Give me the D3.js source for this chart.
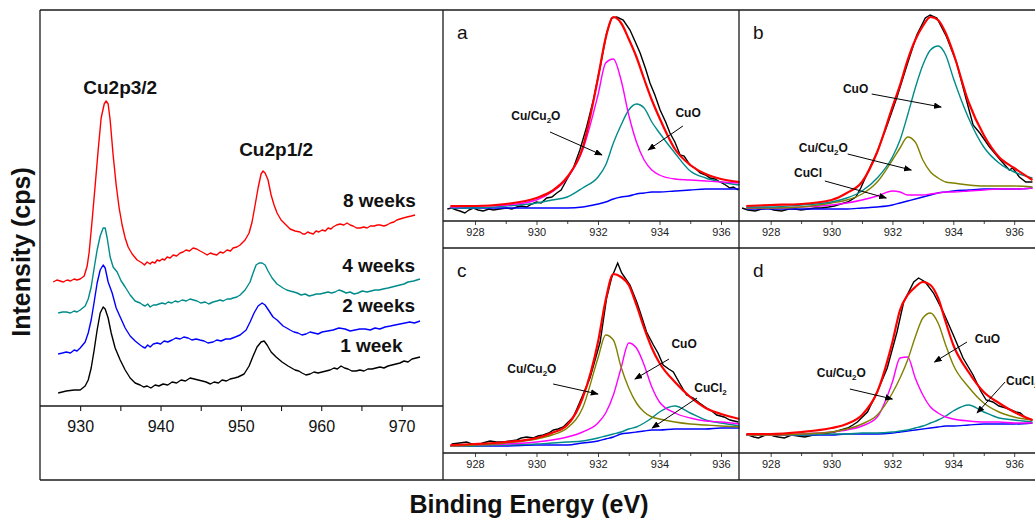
<!DOCTYPE html>
<html>
<head>
<meta charset="utf-8">
<script src="https://cdn.jsdelivr.net/npm/d3@7"></script>
<style>
  body { margin: 0; background: #fff; }
  svg { display: block; }
  text { font-family: "Liberation Sans", Arial, sans-serif; }
</style>
</head>
<body>
<svg id="chart" width="1035" height="522"></svg>
<script>
// ---- survey spectra: [binding energy (eV), intensity (a.u.)]
var week1 = [[927.26,13],[928.26,15],[929.25,16],[930.0,16],[930.62,20],[931.0,26],[931.37,38],[931.74,56],[932.11,76],[932.49,93],[932.86,99],[933.11,97],[933.48,88],[933.86,73],[934.35,58],[934.98,46],[935.6,36],[936.22,28],[936.84,23],[937.46,21],[937.9,19],[938.33,20],[938.8,18],[939.33,21],[939.8,20],[940.32,22],[940.9,21],[941.44,24],[942.0,23],[942.56,26],[943.1,25],[943.68,28],[944.2,27],[944.68,26],[945.2,25],[945.67,24],[946.2,22],[946.67,24],[947.2,23],[947.66,26],[948.2,25],[948.66,27],[949.2,28],[949.65,29],[950.4,32],[951.02,40],[951.52,50],[952.01,59],[952.51,64],[952.89,65],[953.26,61],[953.76,54],[954.38,49],[955.12,44],[955.87,40],[956.3,38],[956.74,36],[957.2,35],[957.61,33],[958.1,31],[958.61,32],[959.1,34],[959.6,33],[960.1,34],[960.6,35],[961.1,36],[961.59,38],[962.0,37],[962.46,40],[962.9,38],[963.33,37],[963.8,35],[964.33,35],[964.8,36],[965.32,35],[965.8,37],[966.32,37],[966.8,38],[967.31,39],[967.8,38],[968.31,40],[968.8,41],[969.3,42],[969.8,43],[970.3,45],[970.8,44],[971.29,47],[971.8,48],[972.29,49]];
var week2 = [[927.26,52],[927.8,53],[928.26,54],[928.8,53],[929.25,56],[929.6,55],[930.0,58],[930.62,64],[931.0,73],[931.37,86],[931.74,104],[932.11,123],[932.49,136],[932.86,141],[933.11,138],[933.48,124],[933.98,113],[934.48,98],[934.98,89],[935.6,78],[936.22,70],[936.84,65],[937.46,61],[937.8,59],[938.08,58],[938.4,61],[938.71,59],[939.1,62],[939.58,63],[940.0,62],[940.45,65],[940.9,64],[941.44,66],[941.9,68],[942.44,67],[942.9,69],[943.43,68],[943.9,66],[944.43,67],[944.9,66],[945.42,65],[945.9,63],[946.54,64],[947.0,66],[947.54,65],[948.1,67],[948.66,67],[949.3,69],[949.9,71],[950.65,76],[951.14,84],[951.64,93],[952.14,100],[952.64,103],[953.01,101],[953.51,95],[954.0,89],[954.5,86],[955.25,80],[955.7,78],[956.12,76],[956.6,74],[957.11,73],[957.6,71],[958.11,72],[958.6,74],[959.1,73],[959.6,72],[960.1,74],[960.8,75],[961.47,76],[962.2,78],[962.96,77],[963.6,75],[964.2,76],[964.8,77],[965.45,77],[966.1,76],[966.69,78],[967.3,77],[967.94,79],[968.6,80],[969.18,81],[969.8,82],[970.42,83],[971.0,84],[971.6,83],[972.29,85]];
var week4 = [[927.26,93],[927.8,94],[928.26,94],[928.8,93],[929.25,95],[929.6,94],[930.0,96],[930.62,100],[931.0,107],[931.37,119],[931.74,138],[932.11,156],[932.49,170],[932.86,178],[933.11,178],[933.36,168],[933.73,149],[934.1,139],[934.6,134],[935.1,125],[935.6,119],[936.22,111],[936.84,105],[937.46,103],[937.8,101],[938.08,100],[938.4,102],[938.71,99],[939.1,101],[939.45,101],[939.8,102],[940.2,103],[940.6,102],[940.95,104],[941.4,103],[941.82,105],[942.2,104],[942.69,106],[943.2,105],[943.68,107],[944.1,106],[944.55,105],[945.0,103],[945.55,104],[946.0,102],[946.54,104],[947.0,105],[947.41,106],[947.8,105],[948.28,107],[948.7,107],[949.03,108],[949.5,109],[949.9,111],[950.52,116],[951.14,124],[951.52,133],[951.89,141],[952.26,143],[952.64,143],[953.01,141],[953.38,135],[953.88,128],[954.5,122],[955.25,118],[955.7,116],[956.12,115],[956.6,114],[956.99,113],[957.5,111],[957.99,112],[958.5,110],[958.98,111],[959.4,112],[959.85,112],[960.35,113],[960.85,114],[961.3,113],[961.72,114],[962.2,116],[962.59,115],[963.1,113],[963.58,114],[964.1,112],[964.58,113],[965.1,115],[965.7,114],[966.2,115],[966.69,116],[967.2,116],[967.69,117],[968.3,118],[968.81,119],[969.3,120],[969.8,121],[970.3,122],[970.8,124],[971.5,125],[972.29,127]];
var week8 = [[926.64,124],[927.1,126],[927.51,125],[927.9,124],[928.38,126],[928.8,125],[929.25,127],[929.6,126],[930.0,127],[930.5,130],[930.87,140],[931.12,154],[931.49,186],[931.87,221],[932.24,256],[932.61,288],[932.99,302],[933.23,305],[933.48,302],[933.73,286],[934.1,251],[934.48,221],[934.85,198],[935.22,181],[935.6,168],[935.97,159],[936.47,152],[937.09,146],[937.71,143],[938.0,141],[938.33,144],[938.7,142],[938.96,144],[939.3,143],[939.58,146],[939.9,145],[940.2,147],[940.5,146],[940.82,149],[941.2,148],[941.57,151],[942.0,150],[942.44,153],[942.8,154],[943.18,156],[943.6,155],[944.05,158],[944.5,157],[944.93,155],[945.4,153],[945.8,151],[946.2,153],[946.54,152],[947.0,151],[947.41,154],[947.8,153],[948.28,156],[948.7,155],[949.03,158],[949.5,159],[949.9,161],[950.52,166],[951.02,173],[951.39,184],[951.77,201],[952.14,218],[952.51,232],[952.76,235],[953.01,233],[953.38,226],[953.76,211],[954.13,201],[954.5,193],[955.0,186],[955.5,182],[956.12,177],[956.74,175],[957.36,174],[957.7,172],[957.99,172],[958.3,174],[958.61,173],[959.0,172],[959.35,175],[959.7,174],[960.1,176],[960.5,175],[960.85,178],[961.2,177],[961.47,179],[961.9,181],[962.34,182],[962.8,181],[963.21,183],[963.6,181],[963.96,180],[964.4,178],[964.83,178],[965.3,179],[965.7,178],[966.1,180],[966.57,180],[967.0,181],[967.31,181],[967.8,180],[968.18,181],[968.6,183],[969.05,184],[969.4,186],[969.8,187],[970.2,188],[970.67,189],[971.2,190],[971.67,191]];

var surveyTicks = [930, 940, 950, 960, 970];
var surveyMinor = [935, 945, 955, 965];

// ---- curve fits of the Cu2p3/2 peak: energy grid shared by the fitted curves
var fitEnergy = [927.2, 928, 929, 930, 930.5, 931, 931.5, 932, 932.25, 932.5, 932.75, 933, 933.25, 933.5, 933.75, 934, 934.5, 935, 935.5, 936, 936.6];
var fitTicks = [928, 930, 932, 934, 936];
var fitMinor = [929, 931, 933, 935];

// panel a
var aRaw = [[927.1,12],[927.24,13],[927.4,11],[927.51,10],[927.67,8],[927.8,11],[927.95,13],[928.1,11],[928.27,10],[928.45,12],[928.6,11],[928.8,12],[929.03,13],[929.2,12],[929.36,14],[929.5,15],[929.68,14],[929.85,17],[930.0,19],[930.15,18],[930.33,23],[930.5,24],[930.66,28],[930.8,31],[930.98,41],[931.2,53],[931.41,71],[931.63,94],[931.85,121],[932.07,154],[932.28,188],[932.44,203],[932.61,204],[932.82,201],[933.04,191],[933.2,180],[933.37,168],[933.55,152],[933.69,138],[933.85,126],[934.02,111],[934.2,99],[934.34,88],[934.5,79],[934.67,66],[934.8,65],[934.99,56],[935.15,53],[935.32,48],[935.5,46],[935.64,43],[935.8,42],[935.97,39],[936.1,37],[936.29,33],[936.4,34],[936.56,31]];
var aFit = [15,15,17,23,30,44,73,143,183,204,198,182,164,142,121,103,72,56,47,42,39];
var aCu2O = [14,15,16,21,29,43,71,126,158,162,141,106,79,61,51,46,42,41,40,39,38];
var aCuO = [13,13,15,18,21,24,33,44,56,78,96,111,117,113,99,88,68,50,43,39,36];
var aBg = [13,13,13,13,13,13,14,17,19,22,24,25,27,28,29,29,30,31,32,32,32];

// panel b
var bRaw = [[927.06,13],[927.25,11],[927.49,10],[927.7,12],[927.92,13],[928.1,11],[928.36,10],[928.6,12],[928.79,12],[929.0,11],[929.23,12],[929.45,13],[929.66,13],[929.9,14],[930.09,15],[930.3,17],[930.53,19],[930.8,24],[930.96,33],[931.18,48],[931.5,69],[931.83,96],[932.15,124],[932.48,156],[932.8,186],[933.08,203],[933.24,206],[933.46,203],[933.78,184],[934.11,158],[934.43,121],[934.65,96],[934.87,88],[935.19,74],[935.52,62],[935.84,51],[935.95,53],[936.17,44],[936.38,39],[936.6,39]];
var bFit = [15,16,17,21,28,39,69,114,136,161,181,195,204,201,188,168,119,86,64,53,41];
var bCuO = [14,14,16,19,23,30,43,64,81,106,133,156,171,175,166,143,103,74,58,49,43];
var bCu2O = [13,13,14,18,21,27,39,61,73,84,79,61,49,43,39,38,36,35,35,35,34];
var bCuCl = [13,13,14,16,18,21,25,30,29,26,26,26,27,28,29,29,30,31,32,32,33];
var bBg = [12,12,12,12,12,13,14,16,18,20,22,24,26,28,29,30,31,32,32,32,33];

// panel c
var cRaw = [[927.24,9],[927.5,10],[927.73,11],[928.05,7],[928.25,10],[928.49,12],[928.7,11],[928.92,11],[929.15,12],[929.36,13],[929.5,15],[929.68,16],[929.9,15],[930.05,17],[930.22,18],[930.4,20],[930.55,23],[930.7,24],[930.87,26],[931.0,30],[931.2,36],[931.41,51],[931.74,75],[932.07,111],[932.28,155],[932.44,175],[932.64,190],[932.77,180],[933.04,168],[933.26,151],[933.37,141],[933.58,121],[933.8,108],[933.95,100],[934.12,88],[934.3,84],[934.45,81],[934.65,70],[934.88,58],[935.1,55],[935.3,50],[935.53,45],[935.7,42],[935.86,38],[936.1,36],[936.29,33],[936.56,31]];
var cFit = [8,9,11,15,20,28,55,111,153,179,176,168,148,125,105,90,71,56,45,39,34];
var cCu2O = [7,8,10,14,18,25,45,95,118,113,86,65,50,41,36,34,31,29,28,27,26];
var cCuO = [7,8,9,11,13,16,21,30,40,58,85,110,105,88,66,51,40,35,32,31,29];
var cCuCl2 = [7,7,8,9,10,11,12,15,17,19,21,24,26,30,35,41,47,40,33,30,27];
var cBg = [7,7,7,8,8,8,10,12,14,16,19,20,21,22,23,23,24,24,24,25,25];

// panel d
var dRaw = [[927.27,18],[927.45,16],[927.6,15],[927.75,17],[927.92,19],[928.1,17],[928.25,16],[928.45,15],[928.68,18],[928.9,17],[929.12,16],[929.4,18],[929.66,19],[929.9,20],[930.09,21],[930.3,23],[930.53,25],[930.7,28],[930.85,31],[931.18,41],[931.5,61],[931.83,85],[932.15,121],[932.37,151],[932.7,171],[932.86,175],[933.08,171],[933.35,160],[933.67,141],[934.0,118],[934.32,95],[934.65,78],[934.9,62],[935.08,53],[935.3,51],[935.5,47],[935.73,45],[936.06,41],[936.2,40],[936.38,35],[936.6,33]];
var dFit = [19,19,21,25,29,38,61,111,143,158,166,171,168,155,131,108,81,61,50,41,33];
var dCuO = [18,18,19,21,24,29,38,60,75,93,116,135,140,130,108,88,66,50,41,36,33];
var dCu2O = [18,18,19,21,23,27,36,71,95,96,75,58,46,40,36,34,32,31,31,30,30];
var dCuCl2 = [18,18,18,19,19,20,20,21,22,23,25,27,30,33,37,42,48,41,35,33,31];
var dBg = [18,18,18,18,19,19,19,20,21,22,23,24,25,26,27,27,28,29,29,29,30];

var RED = "#ff0000", TEAL = "#008b8b", BLUE = "#0000ff", MAG = "#ff00ff", OLIVE = "#808000";
var FRAME = "#1a1a1a";

var svg = d3.select("#chart");
var defs = svg.append("defs");
defs.append("marker").attr("id", "arrowhead")
    .attr("viewBox", "0 0 10 8").attr("refX", 9).attr("refY", 4)
    .attr("markerWidth", 8).attr("markerHeight", 6.4).attr("markerUnits", "userSpaceOnUse")
    .attr("orient", "auto")
    .append("path").attr("d", "M0,0 L10,4 L0,8 Z").attr("fill", "#000");

// ---------------- survey panel ----------------
var sx = d3.scaleLinear().domain([925, 975.15]).range([40, 443]);
var sy = d3.scaleLinear().domain([0, 396]).range([406, 10]);
var surveyLine = d3.line().x(function (d) { return sx(d[0]); }).y(function (d) { return sy(d[1]); });

[[week1, "#000"], [week2, BLUE], [week4, TEAL], [week8, RED]].forEach(function (s) {
    svg.append("path").datum(s[0])
        .attr("d", surveyLine)
        .attr("fill", "none").attr("stroke", s[1]).attr("stroke-width", 1.4)
        .attr("stroke-linejoin", "round");
});

var surveyAxis = svg.append("g").attr("transform", "translate(0,406)")
    .call(d3.axisBottom(sx).tickValues(surveyTicks).tickFormat(d3.format("d")).tickSize(5).tickPadding(10));
svg.append("g").attr("transform", "translate(0,406)")
    .call(d3.axisBottom(sx).tickValues(surveyMinor).tickFormat("").tickSize(5));
svg.selectAll(".domain").remove();
surveyAxis.selectAll("text").attr("font-size", 16).attr("fill", "#111")
    .attr("font-family", "'Liberation Sans', Arial, sans-serif");

var surveyLabels = [
    {t: "Cu2p3/2", e: 934.98, v: 312, a: "middle"},
    {t: "Cu2p1/2", e: 954.38, v: 250, a: "middle"},
    {t: "8 weeks", e: 962.7, v: 199, a: "start"},
    {t: "4 weeks", e: 962.6, v: 134, a: "start"},
    {t: "2 weeks", e: 962.6, v: 94, a: "start"},
    {t: "1 week", e: 962.35, v: 54, a: "start"}
];
surveyLabels.forEach(function (l) {
    svg.append("text").attr("x", sx(l.e)).attr("y", sy(l.v))
        .attr("text-anchor", l.a).attr("font-size", 19).attr("font-weight", "bold").attr("fill", "#111")
        .text(l.t);
});

// ---------------- fitted panels ----------------
function pairs(vals) {
    return vals.map(function (v, i) { return [fitEnergy[i], v]; });
}

var panels = [
    {id: "a", left: 443, right: 739, top: 10, axis: 221, raw: aRaw, fit: aFit,
     comps: [[aBg, BLUE], [aCuO, TEAL], [aCu2O, MAG]],
     notes: [{t: "Cu/Cu", s: "2", r: "O", e: 929.98, v: 101, from: [930.44, 89], to: [932.13, 66]},
             {t: "CuO", e: 934.93, v: 104, from: [934.76, 95], to: [933.63, 71]}]},
    {id: "b", left: 739, right: 1032, top: 10, axis: 221, raw: bRaw, fit: bFit,
     comps: [[bBg, BLUE], [bCuCl, MAG], [bCu2O, OLIVE], [bCuO, TEAL]],
     notes: [{t: "CuO", e: 930.79, v: 128, from: [931.32, 127], to: [933.6, 114]},
             {t: "Cu/Cu", s: "2", r: "O", e: 929.73, v: 69, from: [930.53, 67], to: [932.62, 51]},
             {t: "CuCl", e: 929.23, v: 44, from: [929.78, 40], to: [931.8, 23]}]},
    {id: "c", left: 443, right: 739, top: 248, axis: 453, raw: cRaw, fit: cFit,
     comps: [[cBg, BLUE], [cCuCl2, TEAL], [cCuO, MAG], [cCu2O, OLIVE]],
     notes: [{t: "CuO", e: 934.8, v: 105, from: [934.31, 94], to: [933.2, 74]},
             {t: "Cu/Cu", s: "2", r: "O", e: 929.85, v: 80, from: [930.54, 69], to: [932.0, 59]},
             {t: "CuCl", s: "2", r: "", e: 935.66, v: 61, from: [935.22, 55], to: [933.76, 25]}]},
    {id: "d", left: 739, right: 1032, top: 248, axis: 453, raw: dRaw, fit: dFit,
     comps: [[dBg, BLUE], [dCuCl2, TEAL], [dCu2O, MAG], [dCuO, OLIVE]],
     notes: [{t: "CuO", e: 935.12, v: 110, from: [934.45, 111], to: [933.38, 91]},
             {t: "Cu/Cu", s: "2", r: "O", e: 930.32, v: 76, from: [930.6, 64], to: [932.0, 54]},
             {t: "CuCl", s: "2", r: "", e: 935.73, v: 68, anchor: "start", from: [935.7, 71], to: [934.78, 40]}]}
];

panels.forEach(function (p) {
    var x = d3.scaleLinear().domain([926.96, 936.585]).range([p.left, p.right]);
    var y = d3.scaleLinear().domain([0, p.axis - p.top]).range([p.axis, p.top]);

    defs.append("clipPath").attr("id", "clip-" + p.id)
        .append("rect").attr("x", p.left).attr("y", p.top)
        .attr("width", 1035 - p.left).attr("height", p.axis - p.top);

    var g = svg.append("g").attr("clip-path", "url(#clip-" + p.id + ")");
    var smooth = d3.line().curve(d3.curveMonotoneX)
        .x(function (d) { return x(d[0]); }).y(function (d) { return y(d[1]); });
    var jagged = d3.line()
        .x(function (d) { return x(d[0]); }).y(function (d) { return y(d[1]); });

    g.append("path").datum(p.raw).attr("d", jagged)
        .attr("fill", "none").attr("stroke", "#000").attr("stroke-width", 1.4);
    p.comps.forEach(function (c) {
        g.append("path").datum(pairs(c[0])).attr("d", smooth)
            .attr("fill", "none").attr("stroke", c[1]).attr("stroke-width", 1.4);
    });
    g.append("path").datum(pairs(p.fit)).attr("d", smooth)
        .attr("fill", "none").attr("stroke", RED).attr("stroke-width", 2.2);

    var ax = svg.append("g").attr("transform", "translate(0," + p.axis + ")")
        .call(d3.axisBottom(x).tickValues(fitTicks).tickFormat(d3.format("d")).tickSize(4).tickPadding(3));
    ax.select(".domain").remove();
    ax.selectAll("line").attr("stroke", "#444");
    ax.selectAll("text").attr("font-size", 11).attr("fill", "#222")
        .attr("font-family", "'Liberation Sans', Arial, sans-serif");
    var mx = svg.append("g").attr("transform", "translate(0," + p.axis + ")")
        .call(d3.axisBottom(x).tickValues(fitMinor).tickFormat("").tickSize(3));
    mx.select(".domain").remove();
    mx.selectAll("line").attr("stroke", "#444");

    svg.append("text").attr("x", p.left + 14).attr("y", p.top + 29)
        .attr("font-size", 19).attr("fill", "#111").text(p.id);

    p.notes.forEach(function (n) {
        svg.append("line")
            .attr("x1", x(n.from[0])).attr("y1", y(n.from[1]))
            .attr("x2", x(n.to[0])).attr("y2", y(n.to[1]))
            .attr("stroke", "#000").attr("stroke-width", 1)
            .attr("marker-end", "url(#arrowhead)");
        var t = svg.append("text").attr("x", x(n.e)).attr("y", y(n.v))
            .attr("text-anchor", n.anchor || "middle")
            .attr("font-size", 12).attr("font-weight", "bold").attr("fill", "#111");
        t.append("tspan").text(n.t);
        if (n.s) {
            t.append("tspan").attr("font-size", 8).attr("dy", 3).text(n.s);
            t.append("tspan").attr("dy", -3).text(n.r);
        }
    });
});

// ---------------- frame lines ----------------
var frame = [
    [40, 10, 1035, 10], [40, 480, 1035, 480], [40, 10, 40, 480],
    [443, 10, 443, 480], [739, 10, 739, 480],
    [40, 406, 443, 406], [443, 221, 1035, 221], [443, 248, 1035, 248], [443, 453, 1035, 453]
];
svg.selectAll(".frame").data(frame).enter().append("line").attr("class", "frame")
    .attr("x1", function (d) { return d[0]; }).attr("y1", function (d) { return d[1]; })
    .attr("x2", function (d) { return d[2]; }).attr("y2", function (d) { return d[3]; })
    .attr("stroke", FRAME).attr("stroke-width", 1.3);

// ---------------- axis titles ----------------
svg.append("text").attr("transform", "translate(30,252) rotate(-90)")
    .attr("text-anchor", "middle").attr("font-size", 25).attr("font-weight", "bold").attr("fill", "#111")
    .text("Intensity (cps)");
svg.append("text").attr("x", 529).attr("y", 513)
    .attr("text-anchor", "middle").attr("font-size", 25).attr("font-weight", "bold").attr("fill", "#111")
    .text("Binding Energy (eV)");
</script>
</body>
</html>
